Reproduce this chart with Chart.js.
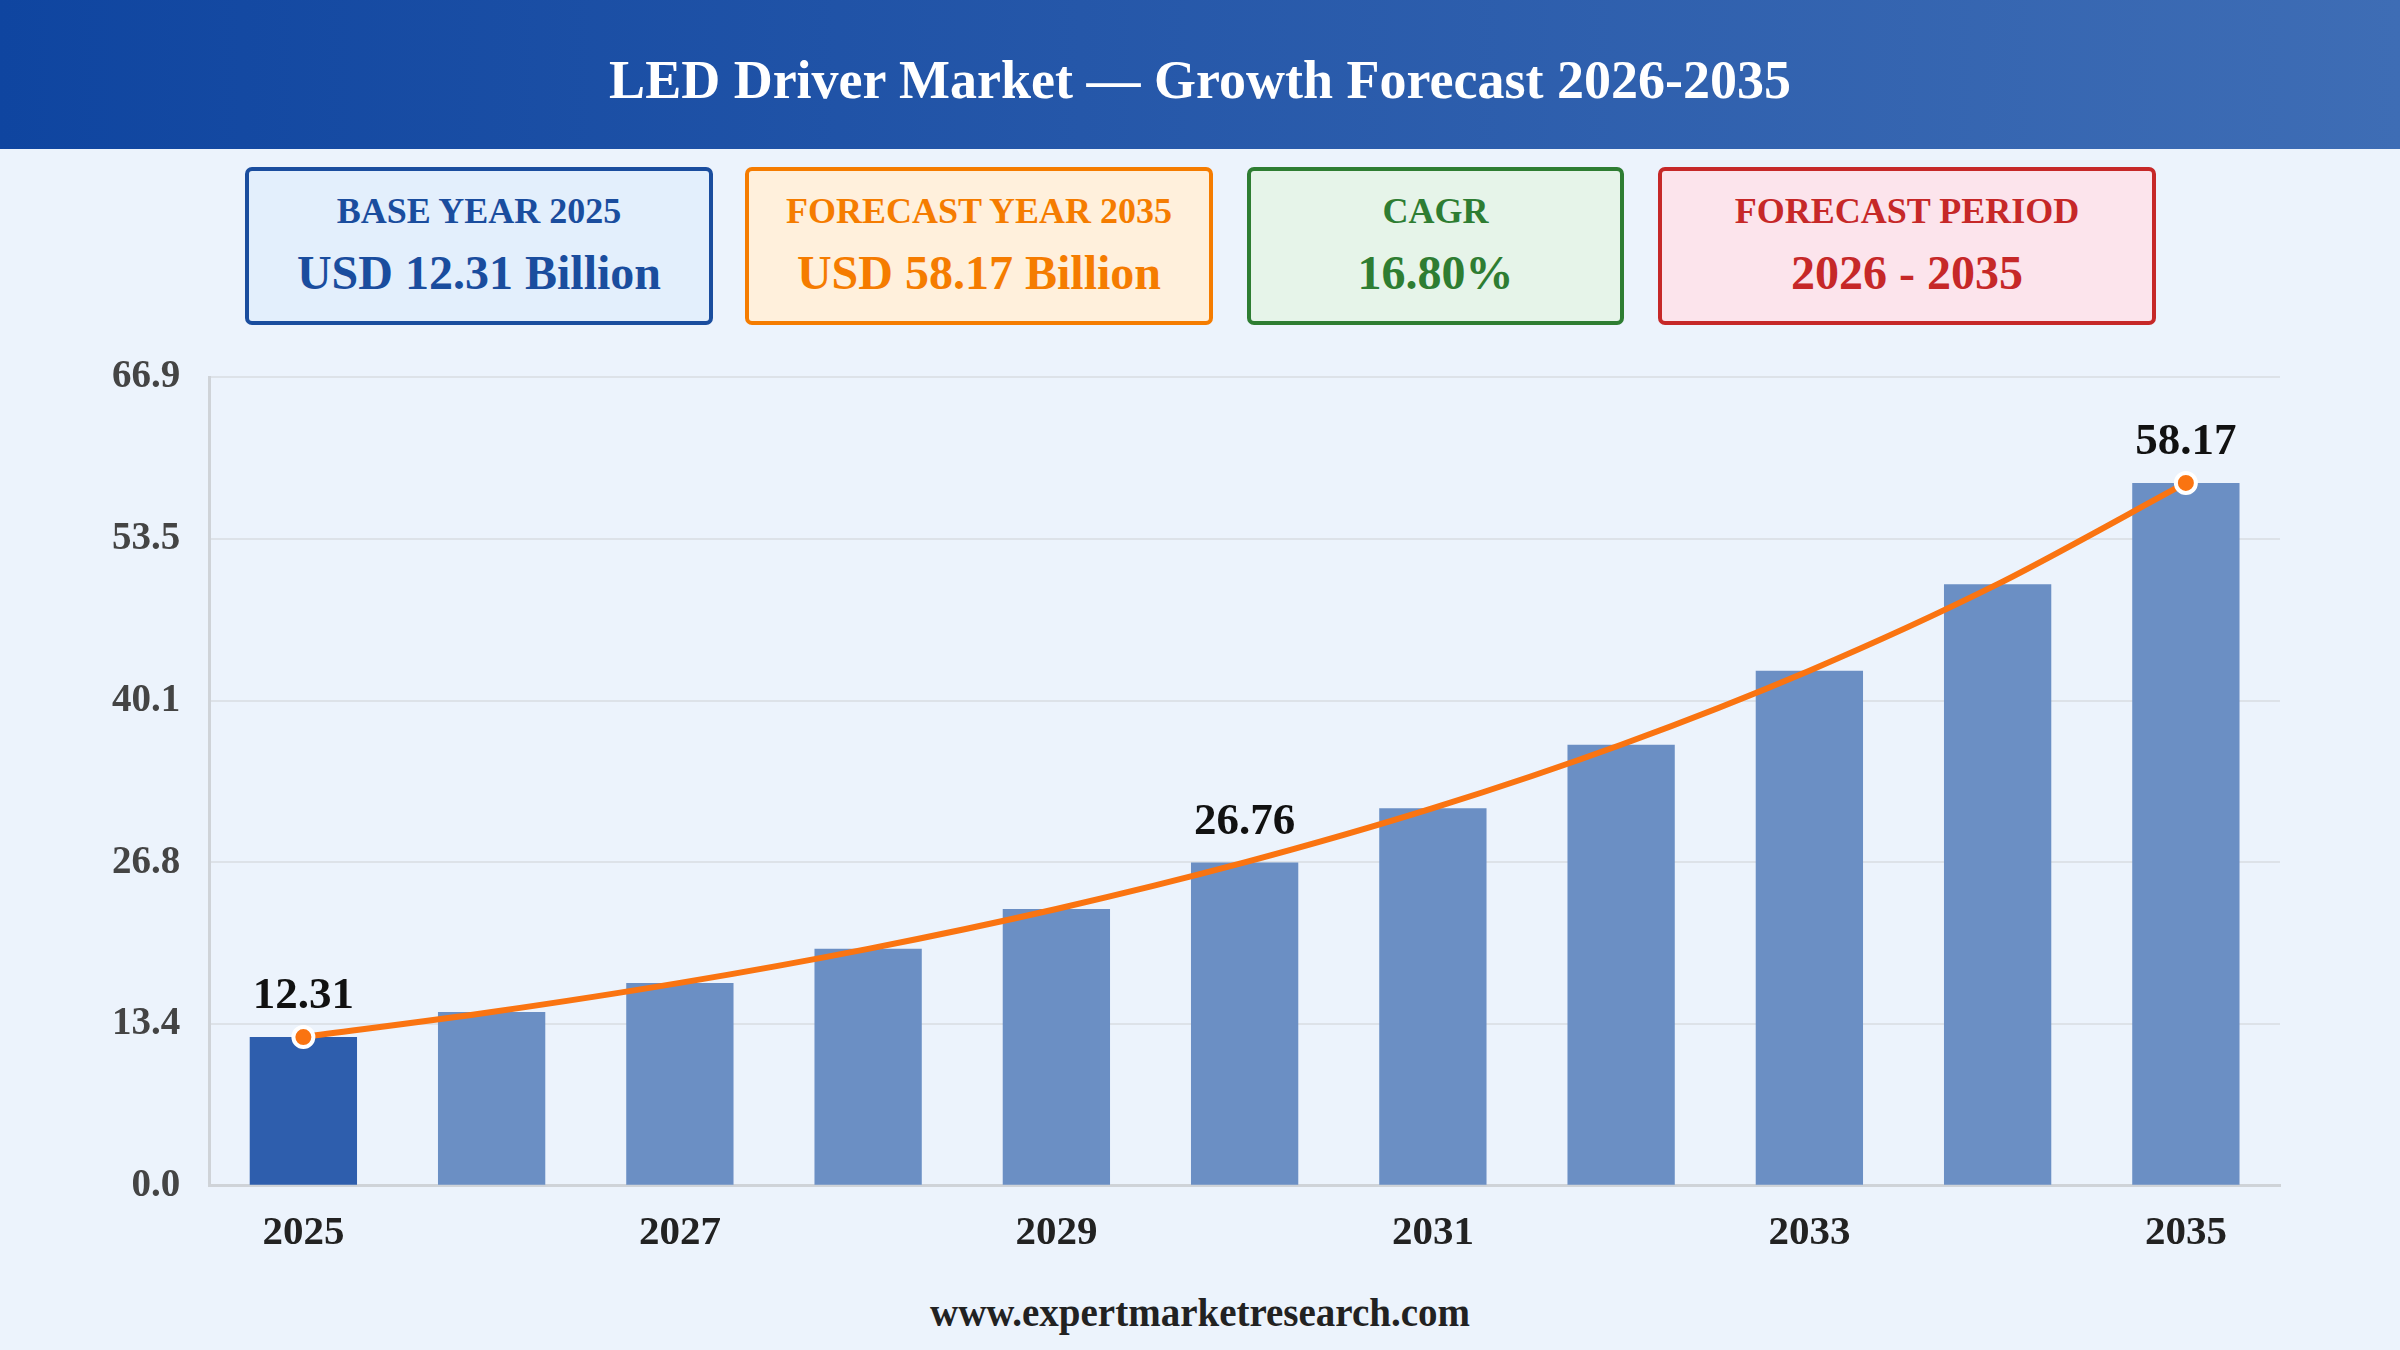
<!DOCTYPE html>
<html>
<head>
<meta charset="utf-8">
<script src="https://cdn.jsdelivr.net/npm/chart.js@4.4.1/dist/chart.umd.min.js"></script>
<style>
  html, body { margin: 0; padding: 0; }
  body {
    width: 2400px; height: 1350px; overflow: hidden; position: relative;
    background: #ecf3fc;
    font-family: "Liberation Serif", "DejaVu Serif", serif;
  }
  .header {
    position: absolute; left: 0; top: 0; width: 2400px; height: 149px; box-sizing: border-box;
    padding-top: 10px;
    background: linear-gradient(90deg, #0f45a0 0%, #2557a9 45%, #3e6db5 100%);
    color: #fff; font-weight: bold; font-size: 54px;
    display: flex; align-items: center; justify-content: center;
  }
  .card {
    position: absolute; top: 167px; height: 158px; box-sizing: border-box;
    border: 4px solid; border-radius: 7px; text-align: center; font-weight: bold;
  }
  .card .lbl { font-size: 36px; margin-top: 19px; }
  .card .val { font-size: 48px; margin-top: 13px; }
  .c1 { left: 245px; width: 468px; background: #e3effc; border-color: #1a4d9e; color: #1a4d9e; }
  .c2 { left: 745px; width: 468px; background: #fff0dc; border-color: #f57c00; color: #f57c00; }
  .c3 { left: 1247px; width: 377px; background: #e6f4e9; border-color: #2e7d32; color: #2e7d32; }
  .c4 { left: 1658px; width: 498px; background: #fce4ec; border-color: #c62828; color: #c62828; }
  .chartbox { position: absolute; left: 0; top: 325px; width: 2400px; height: 958px; }
  .footer {
    position: absolute; left: 0; top: 1290px; width: 2400px; text-align: center;
    font-weight: bold; font-size: 39px; color: #222;
  }
</style>
</head>
<body>
<div class="header">LED Driver Market — Growth Forecast 2026-2035</div>
<div class="card c1"><div class="lbl">BASE YEAR 2025</div><div class="val">USD 12.31 Billion</div></div>
<div class="card c2"><div class="lbl">FORECAST YEAR 2035</div><div class="val">USD 58.17 Billion</div></div>
<div class="card c3"><div class="lbl">CAGR</div><div class="val">16.80%</div></div>
<div class="card c4"><div class="lbl">FORECAST PERIOD</div><div class="val">2026 - 2035</div></div>
<div class="chartbox"><canvas id="grafico"></canvas></div>
<div class="footer">www.expertmarketresearch.com</div>

<script>
const anios = ['2025', '2026', '2027', '2028', '2029', '2030', '2031', '2032', '2033', '2034', '2035'];
const mercado = [12.31, 14.38, 16.79, 19.61, 22.91, 26.76, 31.25, 36.50, 42.63, 49.79, 58.17];
const ejeMax = 66.9;
const etiquetados = [0, 5, 10];

const fuente = '"Liberation Serif", "DejaVu Serif", serif';

// barra del año base más oscura
const coloresBarras = mercado.map((v, i) => i === 0 ? '#2e5ead' : '#6b8fc4');

// etiquetas de valor encima de algunos puntos
const etiquetasValor = {
  id: 'etiquetasValor',
  afterDatasetsDraw(chart) {
    const c = chart.ctx;
    const meta = chart.getDatasetMeta(1);
    c.save();
    c.font = 'bold 45px ' + fuente;
    c.fillStyle = '#111';
    c.textAlign = 'center';
    c.textBaseline = 'bottom';
    etiquetados.forEach(i => {
      const p = meta.data[i];
      c.fillText(mercado[i].toFixed(2), p.x, p.y - 18);
    });
    c.restore();
  }
};

new Chart(document.getElementById('grafico'), {
  type: 'bar',
  data: {
    labels: anios,
    datasets: [
      {
        type: 'line',
        data: mercado,
        borderColor: '#fa7411',
        borderWidth: 6,
        tension: 0.3,
        pointRadius: mercado.map((v, i) => i === 0 || i === mercado.length - 1 ? 10 : 0),
        pointBackgroundColor: '#fa7411',
        pointBorderColor: '#ffffff',
        pointBorderWidth: 4,
        order: 0
      },
      {
        data: mercado,
        backgroundColor: coloresBarras,
        barPercentage: 0.57,
        categoryPercentage: 1,
        order: 1
      }
    ]
  },
  options: {
    responsive: true,
    maintainAspectRatio: false,
    animation: false,
    layout: { padding: { left: 83, right: 120, top: 0, bottom: 10 } },
    plugins: { legend: { display: false }, tooltip: { enabled: false } },
    scales: {
      x: {
        grid: { display: false },
        border: { color: '#cfd3d8', width: 3 },
        ticks: {
          autoSkip: false,
          maxRotation: 0,
          color: '#222',
          font: { family: fuente, size: 41, weight: 'bold' },
          padding: 15,
          callback: (v, i) => i % 2 === 0 ? anios[i] : ''
        }
      },
      y: {
        min: 0,
        max: ejeMax,
        grid: { color: '#dde2e8', lineWidth: 2, drawTicks: false },
        border: { color: '#cfd3d8', width: 3 },
        ticks: {
          stepSize: ejeMax / 5,
          color: '#444',
          font: { family: fuente, size: 39, weight: 'bold' },
          padding: 29,
          callback: v => v.toFixed(1)
        }
      }
    }
  },
  plugins: [etiquetasValor]
});
</script>
</body>
</html>
